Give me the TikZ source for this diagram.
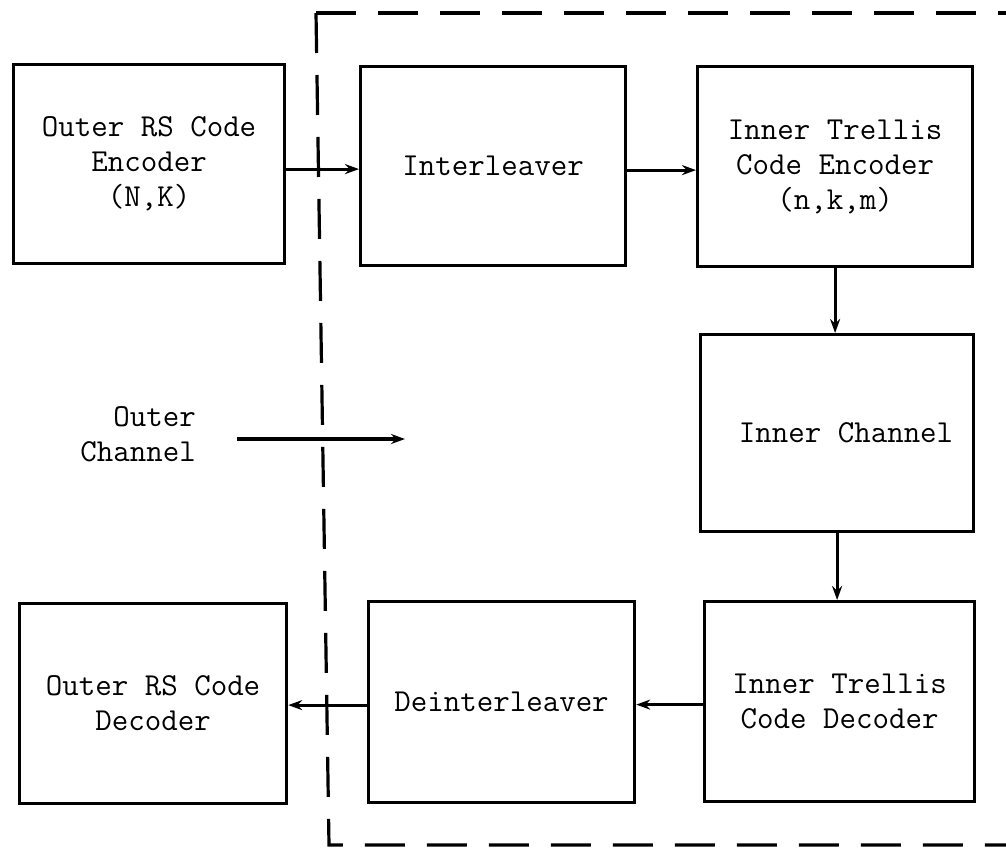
\documentclass[tikz,border=0pt]{standalone}
\usetikzlibrary{arrows.meta}
\begin{document}
\begin{tikzpicture}[x=1pt,y=-1pt,
  blk/.style={draw,line width=3.2pt,anchor=north west,inner sep=0pt,align=center,
    font=\fontsize{32}{35}\selectfont\ttfamily},
  lbl/.style={inner sep=0pt,align=right,font=\fontsize{32}{35}\selectfont\ttfamily},
  arr/.style={line width=3.2pt,-{Stealth[length=14pt,width=10pt]}},
  dsh/.style={line width=3.2pt,dash pattern=on 40pt off 22pt}]
\useasboundingbox (0,0) rectangle (1006,849);
% boxes
\node[blk,minimum width=271pt,minimum height=199pt] (enc) at (12,63) {Outer RS Code\\Encoder\\(N,K)};
\node[blk,minimum width=265pt,minimum height=199pt] (intl) at (359,65) {Interleaver};
\node[blk,minimum width=275pt,minimum height=200pt] (tenc) at (696,65) {Inner Trellis\\Code Encoder\\(n,k,m)};
\node[blk,minimum width=273pt,minimum height=197pt] (chan) at (699,333) {\hspace*{18pt}Inner Channel};
\node[blk,minimum width=270pt,minimum height=200pt] (tdec) at (703,600) {Inner Trellis\\Code Decoder};
\node[blk,minimum width=266pt,minimum height=201pt] (dint) at (367,600) {Deinterleaver};
\node[blk,minimum width=267pt,minimum height=200pt] (dec) at (18,602) {Outer RS Code\\Decoder};
% connectors
\draw[arr] ([yshift=-5pt]enc.east) -- ([yshift=-5pt]enc.east -| intl.west);
\draw[arr] ([yshift=-4pt]intl.east) -- ([yshift=-4pt]intl.east -| tenc.west);
\draw[arr] (tenc.south) -- (tenc.south |- chan.north);
\draw[arr] (chan.south) -- (chan.south |- tdec.north);
\draw[arr] ([yshift=-3pt]tdec.west) -- ([yshift=-3pt]tdec.west -| dint.east);
\draw[arr] ([yshift=-3pt]dint.west) -- ([yshift=-3pt]dint.west -| dec.east);
% outer channel
\node[lbl,anchor=east] (oclbl) at (196,434) {Outer\\Channel};
\coordinate (oc1) at (237,439);
\coordinate (oc2) at (405,439);
\draw[arr] (oc1) -- (oc2);
% dashed boundary
\coordinate (dtr) at (1006,13);
\coordinate (dtl) at (316,13);
\coordinate (dbl) at (329,845);
\coordinate (dbr) at (1006,845);
\draw[dsh] (dtl) -- (dtr);
\draw[dsh] (dtl) -- (dbl) -- (dbr);
\end{tikzpicture}
\end{document}
